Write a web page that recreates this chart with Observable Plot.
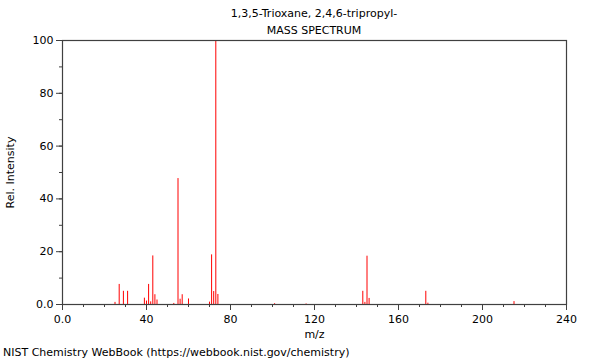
<!DOCTYPE html>
<html>
<head>
<meta charset="utf-8">
<script src="https://cdn.jsdelivr.net/npm/d3@7"></script>
<script src="https://cdn.jsdelivr.net/npm/@observablehq/plot@0.6"></script>
<style>
  body { margin: 0; background: #fff; font-family: "DejaVu Sans", sans-serif; }
  #wrap { position: relative; width: 600px; height: 360px; }
  #title { position: absolute; left: 28px; top: 5px; width: 572px; text-align: center; font-size: 11px; line-height: 17px; color: #000; z-index: 2; }
  #chart { position: absolute; left: 0; top: 30px; z-index: 1; }
  #caption { position: absolute; left: 3px; top: 346px; font-size: 11px; line-height: 14px; color: #000; z-index: 2; }
</style>
</head>
<body>
<div id="wrap">
  <div id="title">1,3,5-Trioxane, 2,4,6-tripropyl-<br>MASS SPECTRUM</div>
  <div id="chart"></div>
  <div id="caption">NIST Chemistry WebBook (https://webbook.nist.gov/chemistry)</div>
</div>
<script>
const mz =        [25, 27, 29, 31, 39, 40, 41, 42, 43, 44, 45, 53, 55, 56, 57, 60, 70, 71, 72, 73, 74, 101, 116, 143, 144, 145, 146, 173, 174, 215];
const intensity = [0.8, 7.6, 5.0, 5.0, 2.4, 1.3, 7.6, 1.0, 18.4, 3.7, 1.7, 0.4, 47.7, 2.0, 3.7, 2.1, 0.9, 18.8, 4.9, 100, 3.8, 0.3, 0.2, 5.0, 0.8, 18.3, 2.3, 5.0, 0.5, 1.1];
const xMajor = [0, 40, 80, 120, 160, 200, 240];
const xMinor = d3.range(0, 241, 10);
const yMajor = [0, 20, 40, 60, 80, 100];
const yMinor = d3.range(0, 101, 10);

const peaks = mz.map((m, i) => ({mz: m, intensity: intensity[i]}));
const fmt = d => d === 0 ? "0.0" : String(d);
const axisColor = "#404040";

const chart = Plot.plot({
  width: 600,
  height: 312,
  marginLeft: 62,
  marginRight: 34,
  marginTop: 10,
  marginBottom: 38,
  style: {fontFamily: "DejaVu Sans, sans-serif", fontSize: "11px", color: "#000", background: "transparent", overflow: "visible"},
  x: {domain: [0, 240]},
  y: {domain: [0, 100]},
  marks: [
    Plot.ruleX(peaks, {x: "mz", y1: 0, y2: "intensity", stroke: "#ff0000", strokeWidth: 1}),
    Plot.axisX(xMinor, {tickSize: 3, text: null, label: null, stroke: axisColor}),
    Plot.axisX(xMajor, {tickSize: 6, tickFormat: fmt, tickPadding: 5, stroke: axisColor, fill: "#000",
      label: "m/z", labelAnchor: "center", labelArrow: "none", labelOffset: 33}),
    Plot.axisY(yMinor, {tickSize: 3, text: null, label: null, stroke: axisColor}),
    Plot.axisY(yMajor, {tickSize: 6, tickFormat: fmt, tickPadding: 3, stroke: axisColor, fill: "#000",
      label: "Rel. Intensity", labelAnchor: "center", labelArrow: "none", labelOffset: 56}),
    Plot.frame({stroke: axisColor, strokeWidth: 1.2})
  ]
});
document.getElementById("chart").appendChild(chart);
</script>
</body>
</html>
